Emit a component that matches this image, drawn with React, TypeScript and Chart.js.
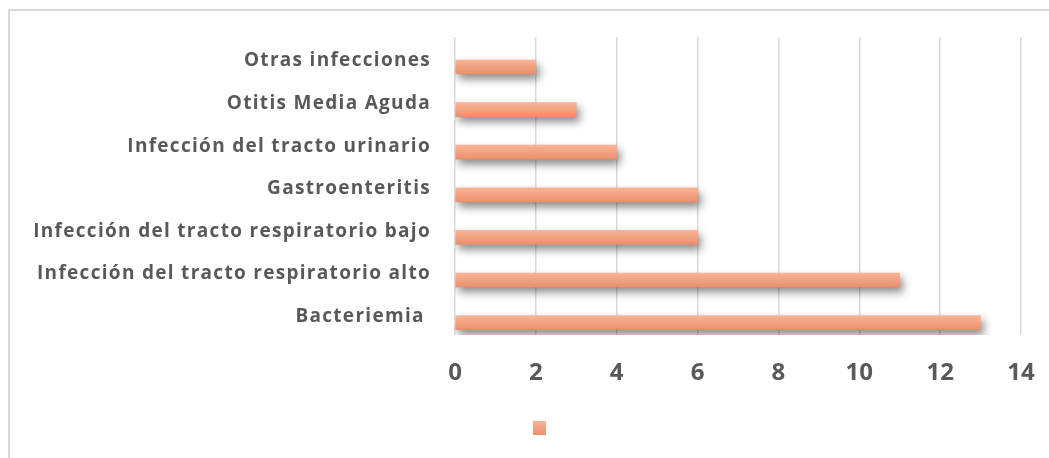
import React, { useEffect, useRef } from "react";
import { Chart, registerables } from "chart.js";

Chart.register(...registerables);

const categories = [
  "Otras infecciones",
  "Otitis Media Aguda",
  "Infección del tracto urinario",
  "Gastroenteritis",
  "Infección del tracto respiratorio bajo",
  "Infección del tracto respiratorio alto",
  "Bacteriemia ",
];
const values = [2, 3, 4, 6, 6, 11, 13];
const xTicks = [0, 2, 4, 6, 8, 10, 12, 14];

const TOP = "rgb(248,180,152)";
const BOTTOM = "rgb(234,143,108)";
const TEXT = "#595959";

const shadowPlugin = {
  id: "barShadow",
  beforeDatasetsDraw(chart: any) {
    const c = chart.ctx;
    c.save();
    c.shadowColor = "rgba(0,0,0,0.45)";
    c.shadowBlur = 8;
    c.shadowOffsetX = 3;
    c.shadowOffsetY = 5;
  },
  afterDatasetsDraw(chart: any) {
    chart.ctx.restore();
  },
};

const framePlugin = {
  id: "frame",
  beforeDraw(chart: any) {
    const c = chart.ctx;
    c.save();
    c.fillStyle = "#d9d9d9";
    c.fillRect(8, 9, chart.width - 8, 2);
    c.fillRect(8, 9, 2, chart.height - 9);
    c.restore();
  },
  afterDraw(chart: any) {
    const c = chart.ctx;
    const x = 533, y = 421, w = 13, h = 14;
    const g = c.createLinearGradient(0, y, 0, y + h);
    g.addColorStop(0, TOP);
    g.addColorStop(1, BOTTOM);
    c.save();
    c.fillStyle = g;
    c.fillRect(x, y, w, h);
    c.restore();
  },
};

function withSpacing(axis: any, spacing: string) {
  if (axis.__spaced) return;
  axis.__spaced = true;
  const orig = axis.drawLabels;
  axis.drawLabels = function (area: any) {
    const c = this.ctx;
    c.save();
    (c as any).letterSpacing = spacing;
    orig.call(this, area);
    c.restore();
  };
}

export default function App() {
  const ref = useRef<HTMLCanvasElement | null>(null);
  useEffect(() => {
    if (!ref.current) return;
    const chart = new Chart(ref.current, {
      type: "bar",
      data: {
        labels: categories,
        datasets: [
          {
            data: values,
            barThickness: 14,
            borderWidth: 0,
            backgroundColor: (ctx: any) => {
              const ch = ctx.chart;
              const ys = ch.scales && ch.scales.y;
              if (!ys || ctx.dataIndex === undefined) return BOTTOM;
              const yc = ys.getPixelForValue(ctx.dataIndex);
              if (!isFinite(yc)) return BOTTOM;
              const g = ch.ctx.createLinearGradient(0, yc - 7, 0, yc + 7);
              g.addColorStop(0, TOP);
              g.addColorStop(1, BOTTOM);
              return g;
            },
          },
        ],
      },
      options: {
        indexAxis: "y",
        animation: false,
        responsive: false,
        maintainAspectRatio: false,
        layout: { padding: { top: 37, right: 28, left: 0, bottom: 0 } },
        plugins: { legend: { display: false }, tooltip: { enabled: false } },
        scales: {
          x: {
            min: 0,
            max: 14,
            afterBuildTicks: (axis: any) => {
              axis.ticks = xTicks.map((v) => ({ value: v }));
            },
            afterFit: (axis: any) => {
              axis.height = 123;
              axis.paddingLeft = 0;
              axis.paddingRight = 0;
            },
            grid: { color: "#d9d9d9", lineWidth: 1.5, drawTicks: false },
            border: { display: false },
            ticks: {
              padding: 24,
              color: TEXT,
              font: { family: "Open Sans", size: 24, weight: "bold" },
            },
          },
          y: {
            offset: false,
            afterDataLimits: (axis: any) => {
              axis.min = 0;
              axis.max = categories.length - 1;
            },
            afterBuildTicks: (axis: any) => {
              axis.ticks = categories.map((_, i) => ({ value: i }));
              axis._startValue = -0.704;
              axis._valueRange = 6.995;
            },
            afterFit: (axis: any) => {
              axis.width = 455;
              axis.paddingTop = 0;
              axis.paddingBottom = 0;
              withSpacing(axis, "1.3px");
            },
            grid: { display: false, drawTicks: false },
            border: { display: false },
            ticks: {
              padding: 24,
              labelOffset: -6,
              color: TEXT,
              font: { family: "Open Sans", size: 19, weight: "bold" },
            },
          },
        },
      },
      plugins: [shadowPlugin, framePlugin],
    } as any);
    return () => chart.destroy();
  }, []);
  return (
    <div style={{ position: "absolute", left: 0, top: 0, width: 1049, height: 458 }}>
      <canvas ref={ref} width={1049} height={458} style={{ width: 1049, height: 458 }} />
    </div>
  );
}
